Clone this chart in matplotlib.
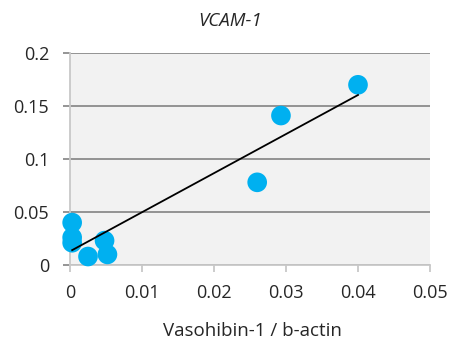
import numpy as np
import matplotlib
matplotlib.use('Agg')
import matplotlib.pyplot as plt

# values
vasohibin = [0.0003, 0.0003, 0.0003, 0.0025, 0.0048, 0.0052, 0.0260, 0.0293, 0.0400]
vcam = [0.040, 0.026, 0.021, 0.008, 0.023, 0.010, 0.078, 0.141, 0.170]
x_ticks = [0, 0.01, 0.02, 0.03, 0.04, 0.05]
y_ticks = [0, 0.05, 0.1, 0.15, 0.2]
x_labels = ['0', '0.01', '0.02', '0.03', '0.04', '0.05']
y_labels = ['0', '0.05', '0.1', '0.15', '0.2']

plt.rcParams['font.family'] = ['Open Sans', 'DejaVu Sans']

fig = plt.figure(figsize=(4.49, 3.42), dpi=100)
ax = fig.add_axes([70 / 449, 1 - 265 / 342, 360 / 449, 212 / 342])
ax.set_facecolor('#F2F2F2')

x = np.array(vasohibin)
y = np.array(vcam)
ax.scatter(x, y, s=200, color='#00B0F0', edgecolors='none', zorder=3,
           clip_on=False)

# linear trendline
slope, icept = np.polyfit(x, y, 1)
xl = np.array([x.min(), x.max()])
ax.plot(xl, slope * xl + icept, color='black', linewidth=1.3, zorder=4)

ax.set_xlim(0, 0.05)
ax.set_ylim(0, 0.2)
ax.set_xticks(x_ticks)
ax.set_xticklabels(x_labels)
ax.set_yticks(y_ticks)
ax.set_yticklabels(y_labels)
ax.grid(axis='y', color='#8C8C8C', linewidth=1.3)
ax.set_axisbelow(True)

for side in ['top', 'right']:
    ax.spines[side].set_visible(False)
ax.spines['left'].set_color('#C8C8C8')
ax.spines['bottom'].set_color('#C8C8C8')
ax.spines['left'].set_linewidth(1.3)
ax.spines['bottom'].set_linewidth(1.3)
ax.tick_params(axis='x', length=5, width=1.3, color='#C8C8C8', labelsize=13,
               pad=9, labelcolor='#262626')
ax.tick_params(axis='y', length=5, width=1.3, color='#8C8C8C', labelsize=13,
               pad=10, labelcolor='#262626')

fig.text(252 / 449, 1 - 331 / 342, 'Vasohibin-1 / b-actin', ha='center',
         va='center', fontsize=13.5, color='#262626')
fig.text(230 / 449, 1 - 21 / 342, 'VCAM-1', ha='center', va='center',
         fontsize=13.5, style='italic', color='#262626')

fig.savefig('out.png', dpi=100)
